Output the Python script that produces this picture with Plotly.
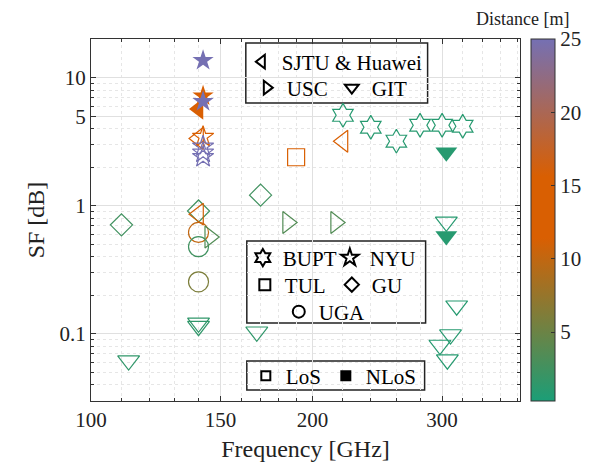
import plotly.graph_objects as go

# ---------------- data (frequency GHz, shadow-fading std dB, distance m, NLoS flag) -------------
bupt_f = [220, 240, 260, 280, 300, 320]
bupt_sf = [5.08, 4.10, 3.19, 4.25, 4.25, 4.17]
bupt_d = [1.0, 1.0, 1.0, 1.0, 1.0, 1.0]
bupt_nlos = [0, 0, 0, 0, 0, 0]

nyu_f = [142, 142, 142, 142, 142, 142, 142]
nyu_sf = [13.6, 7.2, 6.5, 3.45, 2.9, 2.6, 2.4]
nyu_d = [25, 13, 25, 13, 25, 25, 25]
nyu_nlos = [1, 1, 1, 0, 0, 0, 0]

sjtu_f = [140, 140, 220, 140]
sjtu_sf = [5.7, 3.35, 3.19, 0.86]
sjtu_d = [12, 12, 12, 11]
sjtu_nlos = [1, 0, 0, 0]

usc_f = [145, 185, 215]
usc_sf = [0.57, 0.74, 0.74]
usc_d = [3.5, 3.5, 3.5]
usc_nlos = [0, 0, 0]

git_f = [304, 304, 304, 314, 308, 298, 305, 112.5, 140, 140, 168]
git_sf = [2.62, 0.58, 0.75, 0.166, 0.099, 0.082, 0.063, 0.062, 0.122, 0.115, 0.104]
git_d = [1, 1, 1, 1, 1, 1, 1, 1.5, 1.5, 1.5, 1.5]
git_nlos = [1, 1, 0, 0, 0, 0, 0, 0, 0, 0, 0]

tul_f = [190]
tul_sf = [2.39]
tul_d = [12]
tul_nlos = [0]

gu_f = [110, 140, 170]
gu_sf = [0.71, 0.91, 1.21]
gu_d = [2.5, 2.5, 2.5]
gu_nlos = [0, 0, 0]

uga_f = [140, 140, 140]
uga_sf = [0.62, 0.48, 0.255]
uga_d = [10, 2.5, 6]
uga_nlos = [0, 0, 0]

x_ticks = [100, 150, 200, 300]
x_minor = [110, 120, 130, 140, 160, 170, 180, 190, 220, 240, 260, 280, 320, 340, 360, 380]
y_ticks = [0.1, 1, 5, 10]
y_minor = [0.04, 0.05, 0.06, 0.07, 0.08, 0.09, 0.2, 0.3, 0.4, 0.5, 0.6, 0.7, 0.8, 0.9,
           2, 3, 4, 6, 7, 8, 9, 20]
cbar_ticks = [5, 10, 15, 20, 25]

FONT = "Liberation Serif"

fig = go.Figure()

groups = [
    (gu_f, gu_sf, gu_d, gu_nlos, "diamond", 17),
    (uga_f, uga_sf, uga_d, uga_nlos, "circle", 20),
    (usc_f, usc_sf, usc_d, usc_nlos, "triangle-right", 19),
    (git_f, git_sf, git_d, git_nlos, "triangle-down", 19),
    (tul_f, tul_sf, tul_d, tul_nlos, "square", 17),
    (sjtu_f, sjtu_sf, sjtu_d, sjtu_nlos, "triangle-left", 19),
    (bupt_f, bupt_sf, bupt_d, bupt_nlos, "hexagram", 18),
    (nyu_f, nyu_sf, nyu_d, nyu_nlos, "star", 16),
]

for f, sf, d, nl, sym, size in groups:
    for flag in (0, 1):
        idx = [i for i, n in enumerate(nl) if n == flag]
        if not idx:
            continue
        fig.add_trace(go.Scatter(
            x=[f[i] for i in idx], y=[sf[i] for i in idx], mode="markers",
            marker=dict(symbol=sym if flag else sym + "-open", size=size,
                        color=[d[i] for i in idx], coloraxis="coloraxis",
                        line=dict(width=0 if flag else 1.2)),
            showlegend=False, hoverinfo="skip"))

# ---------------- legend entries (symbol keys) ----------------
legend_items = [
    ("SJTU & Huawei", "triangle-left-open", 12, "legend", None),
    ("USC", "triangle-right-open", 12, "legend2", 40),
    ("GIT", "triangle-down-open", 12, "legend2", None),
    ("BUPT", "hexagram-open", 13, "legend3", 42),
    ("NYU", "star-open", 13, "legend3", None),
    ("TUL", "square-open", 11, "legend4", 42),
    ("GU", "diamond-open", 11, "legend4", None),
    ("UGA", "circle-open", 12, "legend5", None),
    ("LoS", "square-open", 9, "legend6", 35),
    ("NLoS", "square", 9, "legend6", None),
]
for name, sym, size, leg, lw in legend_items:
    fig.add_trace(go.Scatter(
        x=[None], y=[None], mode="markers", name=name, legend=leg,
        marker=dict(symbol=sym, size=size, color="black", line=dict(width=2, color="black")),
        showlegend=True, legendwidth=lw, hoverinfo="skip"))

# page geometry: the page body has an 8 px margin, so the figure starts at (8, 8)
OFF = 8
W, H = 593 - OFF, 467 - OFF
L, T = 91 - OFF, 39 - OFF
R = W - (520.5 - OFF)
B = H - (401 - OFF)
PW, PH = W - L - R, H - T - B


def px(x):  # page pixel -> paper x
    return (x - OFF - L) / PW


def py(y):  # page pixel -> paper y
    return (H - B - (y - OFF)) / PH


def leg(xs, yc):
    return dict(x=px(xs - 20), y=py(yc), xanchor="left", yanchor="middle",
                orientation="h", bgcolor="rgba(0,0,0,0)", borderwidth=0,
                font=dict(family=FONT, size=21, color="black"), itemclick=False,
                tracegroupgap=0)


boxes = [(246, 43, 428, 103), (247, 241, 426, 323), (247, 361, 425, 390)]
shapes = [dict(type="rect", xref="paper", yref="paper", x0=px(a), x1=px(c), y0=py(d), y1=py(b),
               line=dict(color="#222", width=1.5), fillcolor="white", layer="between")
          for a, b, c, d in boxes]

fig.update_layout(
    width=W, height=H,
    margin=dict(l=L, r=R, t=T, b=B, autoexpand=False),
    paper_bgcolor="white", plot_bgcolor="white",
    font=dict(family=FONT, size=21, color="#222"),
    legend=leg(262, 62),
    legend2=leg(267, 88),
    legend3=leg(263, 258),
    legend4=leg(265, 285),
    legend5=leg(299, 312),
    legend6=leg(266, 376),
    shapes=shapes,
    coloraxis=dict(
        cmin=0.3, cmax=25,
        colorscale=[[0, "#1b9e77"], [0.45, "#d95f02"], [0.62, "#d95f02"], [1, "#7570b3"]],
        colorbar=dict(x=px(532), xanchor="left", xpad=0, ypad=0, y=0.5, yanchor="middle",
                      len=1, lenmode="fraction", thickness=24, outlinewidth=1,
                      outlinecolor="#333", tickvals=cbar_ticks, ticks="inside",
                      ticklen=4, tickcolor="#333", tickfont=dict(family=FONT, size=21, color="#222"))),
    annotations=[dict(text="Distance [m]", xref="paper", yref="paper", x=px(474), y=py(19),
                      xanchor="left", yanchor="middle", showarrow=False,
                      font=dict(family=FONT, size=18, color="#222"))],
)

fig.update_xaxes(
    type="log", range=[2, 2.583], tickvals=x_ticks, ticktext=[str(v) for v in x_ticks],
    showgrid=True, gridcolor="#e0e0e0", gridwidth=1,
    ticks="inside", ticklen=5, tickcolor="#333",
    showline=True, linecolor="#333", linewidth=1.3, mirror="ticks",
    minor=dict(tickvals=x_minor, showgrid=True, gridcolor="#e6e6e6", griddash="dot",
               ticks="inside", ticklen=3, tickcolor="#333"),
    title=dict(text="Frequency [GHz]", font=dict(family=FONT, size=24, color="#222"), standoff=8),
    zeroline=False)
fig.update_yaxes(
    type="log", range=[-1.523, 1.301], tickvals=y_ticks, ticktext=["0.1", "1", "5", "10"],
    showgrid=True, gridcolor="#e0e0e0", gridwidth=1,
    ticks="inside", ticklen=5, tickcolor="#333",
    showline=True, linecolor="#333", linewidth=1.3, mirror="ticks",
    minor=dict(tickvals=y_minor, showgrid=True, gridcolor="#e6e6e6", griddash="dot",
               ticks="inside", ticklen=3, tickcolor="#333"),
    title=dict(text="SF [dB]", font=dict(family=FONT, size=24, color="#222"), standoff=8),
    zeroline=False)

fig.write_html("out.html")
